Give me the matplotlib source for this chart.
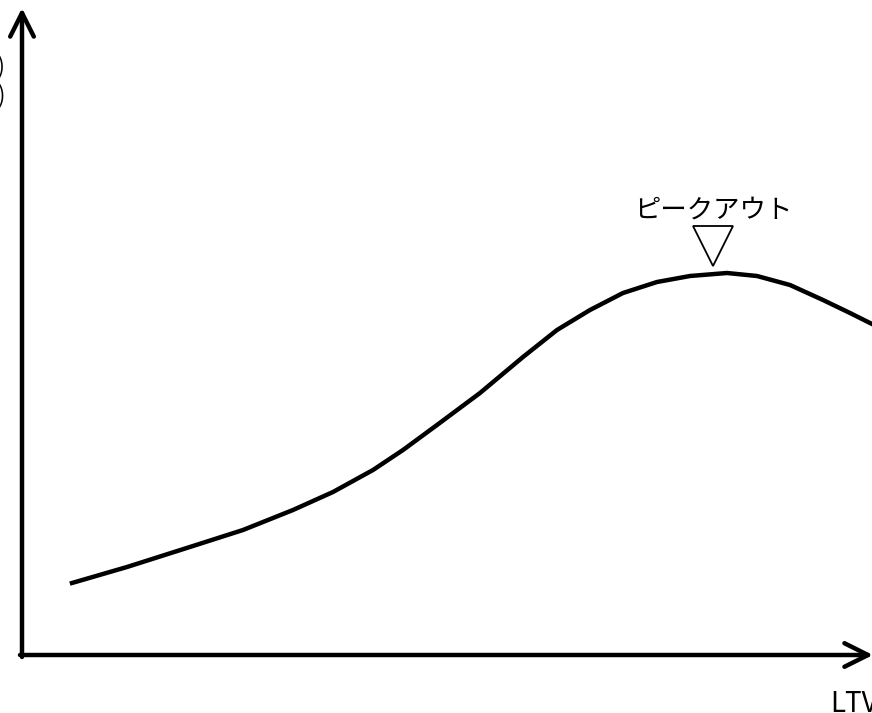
import matplotlib
matplotlib.use("Agg")
import matplotlib.pyplot as plt

plt.rcParams['font.family'] = ['Noto Sans CJK JP', 'DejaVu Sans']

# ---------- DATA ----------
# curve read off the picture (x, y in pixel-like units, y measured upward)
curve_x = [72, 127, 193, 243, 293, 333, 373, 403, 437, 480, 523, 557, 590,
           623, 657, 690, 727, 757, 790, 823, 850, 874]
curve_y = [130, 146, 167, 183, 203, 221, 243, 263, 288, 320, 356, 383, 403,
           420, 431, 437, 440, 437, 428, 413, 400, 388]

peak_x = 713
peak_y = 467
peak_label = "ピークアウト"
x_label = "LTV"
y_label = "(累計利益)\n(売上)"

# ---------- PLOT ----------
fig = plt.figure(figsize=(8.72, 7.13), dpi=100)
ax = fig.add_axes([0, 0, 1, 1])
ax.set_xlim(0, 872)
ax.set_ylim(0, 713)
ax.axis("off")

# axes with open arrow heads
head = "->,head_length=1.7,head_width=0.85"
ax.annotate("", xy=(22, 705), xytext=(22, 56), annotation_clip=False,
            arrowprops=dict(arrowstyle=head, lw=3.2, color="black",
                            shrinkA=0, shrinkB=0, capstyle="round", joinstyle="round"))
ax.annotate("", xy=(873, 58), xytext=(20, 58), annotation_clip=False,
            arrowprops=dict(arrowstyle=head, lw=3.2, color="black",
                            shrinkA=0, shrinkB=0, capstyle="round", joinstyle="round"))

ax.plot(curve_x, curve_y, color="black", lw=3.2, solid_joinstyle="round")

ax.plot([peak_x], [peak_y], marker="v", markersize=29, markerfacecolor="white",
        markeredgecolor="black", markeredgewidth=1.3, linestyle="none")
ax.text(peak_x, 503, peak_label, ha="center", va="center", fontsize=19)

ax.text(830, 1, x_label, ha="left", va="baseline", fontsize=20)
ax.text(5, 632, y_label, ha="right", va="center", fontsize=16, linespacing=1.3)

fig.savefig("out.png", dpi=100)
